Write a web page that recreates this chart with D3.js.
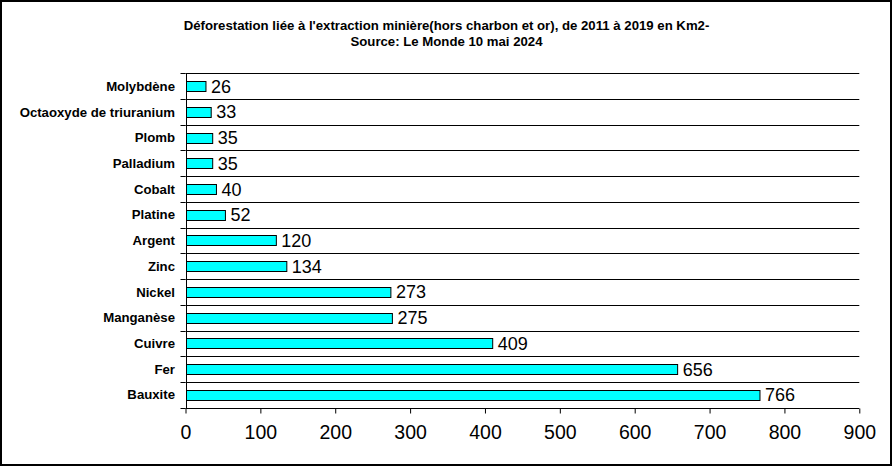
<!DOCTYPE html>
<html><head><meta charset="utf-8">
<script src="https://cdn.jsdelivr.net/npm/d3@7/dist/d3.min.js"></script>
<style>body{margin:0;background:#fff}svg{display:block}</style>
</head><body><svg id="c" width="893" height="467"></svg>
<script>
const categories = ["Molybdène","Octaoxyde de triuranium","Plomb","Palladium","Cobalt","Platine","Argent","Zinc","Nickel","Manganèse","Cuivre","Fer","Bauxite"];
const values = [26,33,35,35,40,52,120,134,273,275,409,656,766];
const xTicks = [0,100,200,300,400,500,600,700,800,900];
const titleLines = ["Déforestation liée à l'extraction minière(hors charbon et or), de 2011 à 2019 en Km2-","Source: Le Monde 10 mai 2024"];

const svg = d3.select("#c");
svg.append("rect").attr("x",1).attr("y",1).attr("width",890).attr("height",464)
  .attr("fill","#fff").attr("stroke","#000").attr("stroke-width",2);

const x = d3.scaleLinear().domain([0,900]).range([185.5,859.3]);
const y = d3.scaleBand().domain(categories).range([73.3,407.7]).paddingInner(0).paddingOuter(0);

// title
svg.selectAll("text.title").data(titleLines).join("text").attr("class","title")
  .attr("x",446.5).attr("y",(d,i)=>29.5+i*16.5).attr("text-anchor","middle")
  .attr("font-family","Liberation Sans, Arial, sans-serif").attr("font-weight","bold").attr("font-size",13.2)
  .text(d=>d);

// gridlines at band boundaries
const bounds = categories.map(c=>y(c)).concat([y.range()[1]]);
svg.selectAll("line.grid").data(bounds).join("line").attr("class","grid")
  .attr("x1",x(0)).attr("x2",x(900)).attr("y1",d=>Math.round(d)+0.5).attr("y2",d=>Math.round(d)+0.5)
  .attr("stroke","#000").attr("stroke-width",1);

// left axis line and ticks
svg.append("line").attr("x1",Math.round(x(0))+0.5).attr("x2",Math.round(x(0))+0.5)
  .attr("y1",Math.round(y.range()[0])).attr("y2",Math.round(y.range()[1])+1).attr("stroke","#000");
svg.selectAll("line.ytick").data(bounds).join("line").attr("class","ytick")
  .attr("x1",x(0)-5).attr("x2",x(0)).attr("y1",d=>Math.round(d)+0.5).attr("y2",d=>Math.round(d)+0.5)
  .attr("stroke","#000");

// bottom axis
const xAxis = d3.axisBottom(x).tickValues(xTicks).tickSize(5).tickPadding(12).tickFormat(d3.format("d"));
const gx = svg.append("g").attr("transform",`translate(0,${Math.round(y.range()[1])+0.5})`).call(xAxis);
gx.select(".domain").remove();
gx.selectAll(".tick line").attr("stroke","#000");
gx.selectAll(".tick text").attr("font-family","Liberation Sans, Arial, sans-serif").attr("font-size",19.5).attr("fill","#000");

// category labels
svg.selectAll("text.cat").data(categories).join("text").attr("class","cat")
  .attr("x",175).attr("y",d=>y(d)+y.bandwidth()/2).attr("dy","0.35em").attr("text-anchor","end")
  .attr("font-family","Liberation Sans, Arial, sans-serif").attr("font-weight","bold").attr("font-size",13.2)
  .text(d=>d);

// bars
const bh = 10;
svg.selectAll("rect.bar").data(values).join("rect").attr("class","bar")
  .attr("x",Math.round(x(0))+0.5).attr("y",(d,i)=>Math.round(y(categories[i])+y.bandwidth()/2-bh/2)+0.5)
  .attr("width",d=>x(d)-x(0)).attr("height",bh)
  .attr("fill","#00FFFF").attr("stroke","#000").attr("stroke-width",1);

// value labels
svg.selectAll("text.val").data(values).join("text").attr("class","val")
  .attr("x",d=>x(d)+6).attr("y",(d,i)=>y(categories[i])+y.bandwidth()/2).attr("dy","0.36em")
  .attr("font-family","Liberation Sans, Arial, sans-serif").attr("font-size",18)
  .text(d=>d);
</script></body></html>
